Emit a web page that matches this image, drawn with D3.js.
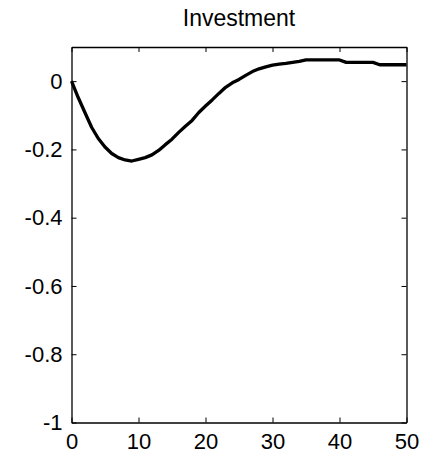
<!DOCTYPE html>
<html>
<head>
<meta charset="utf-8">
<script src="https://cdn.jsdelivr.net/npm/d3@7"></script>
<style>
  html, body { margin: 0; padding: 0; background: #fff; }
  svg { display: block; }
  text { font-family: "Liberation Sans", Arial, sans-serif; fill: #000; }
</style>
</head>
<body>
<svg id="chart" width="427" height="457"></svg>
<script>
// Impulse response of investment over 50 periods
const title = "Investment";
const periods = d3.range(0, 51);
const investment = [
  0, -0.048, -0.092, -0.135, -0.168, -0.193, -0.212, -0.224, -0.231, -0.234,
  -0.229, -0.224, -0.216, -0.203, -0.186, -0.170, -0.150, -0.132, -0.115, -0.092,
  -0.073, -0.055, -0.036, -0.018, -0.005, 0.005, 0.017, 0.028, 0.036, 0.042,
  0.047, 0.050, 0.052, 0.055, 0.058, 0.062, 0.062, 0.062, 0.062, 0.062,
  0.062, 0.055, 0.055, 0.055, 0.055, 0.055, 0.048, 0.048, 0.048, 0.048, 0.048
];
const xTicks = [0, 10, 20, 30, 40, 50];
const yTicks = [0, -0.2, -0.4, -0.6, -0.8, -1];
const xDomain = [0, 50];
const yDomain = [-1, 0.1];

const svg = d3.select("#chart");
const margin = { left: 71.5, right: 20.5, top: 47, bottom: 34.5 };
const W = 427, H = 457;
const x = d3.scaleLinear().domain(xDomain).range([margin.left, W - margin.right]);
const y = d3.scaleLinear().domain(yDomain).range([H - margin.bottom, margin.top]);

const tickLen = 5;
const fmt = d => d === 0 ? "0" : String(d);

// Axes with inward ticks on all four sides
const axisBottomG = svg.append("g").attr("transform", `translate(0,${y(yDomain[0])})`)
  .call(d3.axisBottom(x).tickValues(xTicks).tickFormat(fmt).tickSizeInner(-tickLen).tickSizeOuter(0).tickPadding(11));
const axisTopG = svg.append("g").attr("transform", `translate(0,${y(yDomain[1])})`)
  .call(d3.axisTop(x).tickValues(xTicks).tickFormat("").tickSizeInner(-tickLen).tickSizeOuter(0));
const axisLeftG = svg.append("g").attr("transform", `translate(${x(xDomain[0])},0)`)
  .call(d3.axisLeft(y).tickValues(yTicks).tickFormat(fmt).tickSizeInner(-tickLen).tickSizeOuter(0).tickPadding(9));
const axisRightG = svg.append("g").attr("transform", `translate(${x(xDomain[1])},0)`)
  .call(d3.axisRight(y).tickValues(yTicks).tickFormat("").tickSizeInner(-tickLen).tickSizeOuter(0));

[axisBottomG, axisTopG, axisLeftG, axisRightG].forEach(g => {
  g.selectAll(".domain").attr("stroke", "#000").attr("stroke-width", 1.3);
  g.selectAll(".tick line").attr("stroke", "#000").attr("stroke-width", 1);
  g.selectAll(".tick text").attr("font-size", 22).attr("font-family", "Liberation Sans, Arial, sans-serif").attr("fill", "#000");
});
axisBottomG.selectAll(".tick text").attr("dy", "0.71em");

// Response line
const line = d3.line().x((d, i) => x(periods[i])).y(d => y(d));
svg.append("path")
  .datum(investment)
  .attr("fill", "none")
  .attr("stroke", "#000")
  .attr("stroke-width", 3.3)
  .attr("stroke-linejoin", "round")
  .attr("d", line);

// Title
svg.append("text")
  .attr("x", (x(xDomain[0]) + x(xDomain[1])) / 2)
  .attr("y", 26)
  .attr("text-anchor", "middle")
  .attr("font-size", 23)
  .text(title);
</script>
</body>
</html>
